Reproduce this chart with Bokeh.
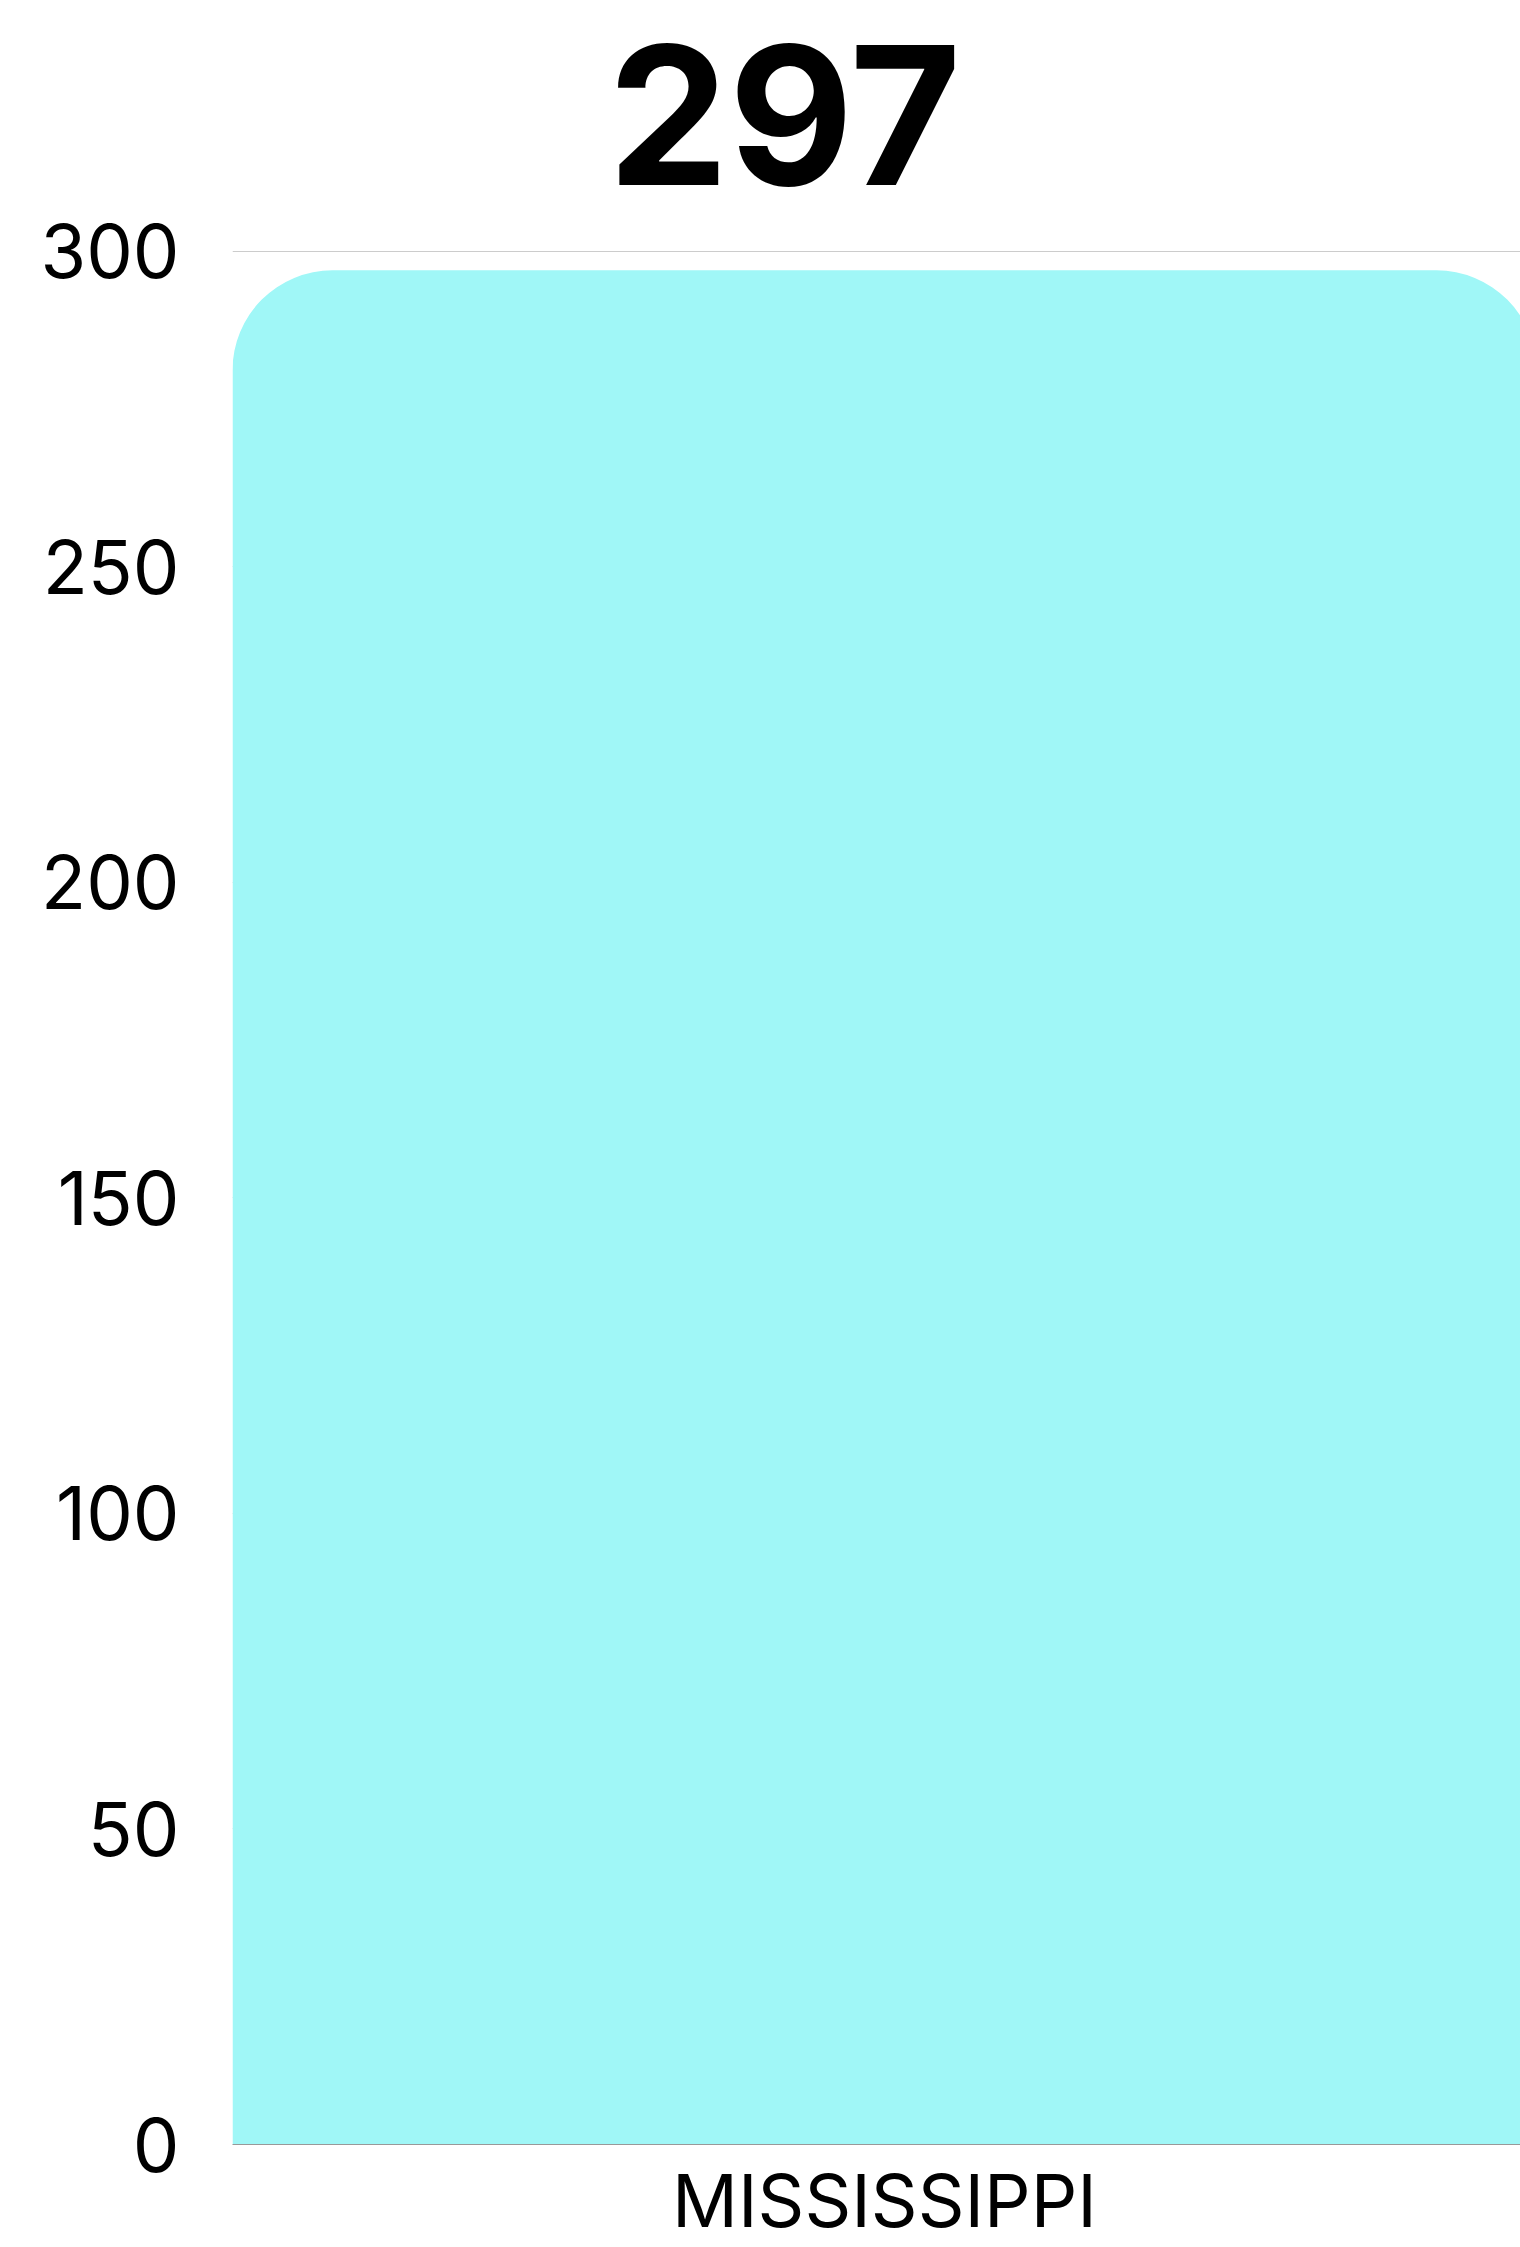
from bokeh.plotting import figure
from bokeh.models import Range1d, FixedTicker
from bokeh.core.properties import value
from bokeh.embed import file_html
from bokeh.resources import INLINE

categories = ["MISSISSIPPI"]
values = [297]
y_ticks = [0, 50, 100, 150, 200, 250, 300]
title_text = "297"

FONT = "Inter"
BAR_COLOR = "#a0f7f7"

# layout (pixels)
FIG_W, FIG_H = 1520, 2247
FRAME_LEFT = 232
FRAME_BOTTOM = 2145
BAR_PX = 1304          # one category slot in pixels (bar runs past right edge)
Y300_PX = 251
TITLE_CENTER_PX = 784
TITLE_SIZE = 192
TITLE_BASELINE_PX = 187
TITLE_ANCHOR_PX = TITLE_BASELINE_PX - 0.378 * TITLE_SIZE

frame_w = FIG_W - FRAME_LEFT
px_per_unit = (FRAME_BOTTOM - Y300_PX) / 300.0
y_end = FRAME_BOTTOM / px_per_unit

x_pos = [i + 0.5 for i in range(len(categories))]

p = figure(
    width=FIG_W, height=FIG_H,
    output_backend="svg", toolbar_location=None,
    x_range=Range1d(0, frame_w / BAR_PX),
    y_range=Range1d(0, y_end),
    min_border_left=FRAME_LEFT, min_border_right=0, min_border_top=0,
    min_border_bottom=FIG_H - FRAME_BOTTOM,
)
p.outline_line_color = None
p.background_fill_color = "white"
p.border_fill_color = "white"

try:
    p.rect(x=x_pos, y=[v / 2 for v in values], width=1.0, height=values,
           fill_color=BAR_COLOR, line_color=None,
           border_radius=(100, 100, 0, 0))
except Exception:
    p.vbar(x=x_pos, top=values, width=1.0, bottom=0,
           fill_color=BAR_COLOR, line_color=None,
           border_radius=(100, 0, 0, 0))

# axes
p.yaxis.ticker = FixedTicker(ticks=y_ticks)
p.yaxis.axis_line_color = None
p.yaxis.major_tick_line_color = None
p.yaxis.minor_tick_line_color = None
p.yaxis.major_label_standoff = 47
p.yaxis.major_label_text_font = FONT
p.yaxis.major_label_text_font_size = "74px"
p.yaxis.major_label_text_color = "black"

p.xaxis.ticker = FixedTicker(ticks=x_pos)
p.xaxis.major_label_overrides = {x: c for x, c in zip(x_pos, categories)}
p.xaxis.axis_line_color = "#999999"
p.xaxis.axis_line_width = 1
p.xaxis.major_tick_line_color = None
p.xaxis.minor_tick_line_color = None
p.xaxis.major_label_standoff = 5
p.xaxis.major_label_text_font = FONT
p.xaxis.major_label_text_font_size = "73px"
p.xaxis.major_label_text_color = "black"

p.xgrid.grid_line_color = None
p.ygrid.ticker = FixedTicker(ticks=y_ticks)
p.ygrid.grid_line_color = "#cccccc"
p.ygrid.grid_line_width = 1
p.ygrid.level = "underlay"

# big value title
p.text(x=[(TITLE_CENTER_PX - FRAME_LEFT) / BAR_PX],
       y=[(FRAME_BOTTOM - TITLE_ANCHOR_PX) / px_per_unit],
       text=[title_text], text_align="center", text_baseline="alphabetic",
       text_font=value(FONT), text_font_style="bold",
       text_font_size=f"{TITLE_SIZE}px",
       text_color="black")

open("out.html", "w").write(file_html(p, INLINE))
